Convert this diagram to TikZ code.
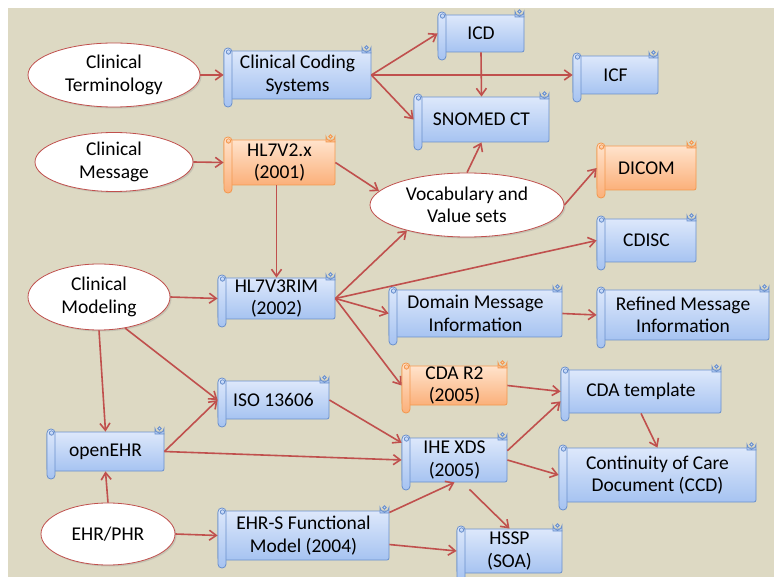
\documentclass[tikz,border=0pt]{standalone}
\usepackage{fontspec}
\setmainfont{Carlito}
\usetikzlibrary{arrows.meta,shapes.geometric,shadows,calc}

\definecolor{bgtan}{HTML}{DDD9C3}
\definecolor{linkred}{HTML}{C0504D}
\definecolor{blueTop}{HTML}{DDE8FB}
\definecolor{blueBot}{HTML}{A6C3F1}
\definecolor{blueLine}{HTML}{6A90CC}
\definecolor{orgTop}{HTML}{FFE3CC}
\definecolor{orgBot}{HTML}{FBB07A}
\definecolor{orgLine}{HTML}{F3984E}

\tikzset{
  txt/.style={font=\fontsize{19.5}{22.5}\selectfont, align=center, text=black},
  topic/.style={ellipse, txt, draw=linkred, line width=0.8pt, fill=white, inner sep=0pt,
    drop shadow={shadow xshift=1.5pt, shadow yshift=-1.5pt, opacity=0.25}},
  bluepal/.style={top color=blueTop, bottom color=blueBot, draw=blueLine},
  orangepal/.style={top color=orgTop, bottom color=orgBot, draw=orgLine},
  scrollbody/.style={rectangle, rounded corners=2pt, line width=0.8pt, inner sep=0pt, txt},
  rollpart/.style={line width=0.8pt},
  link/.style={draw=linkred, line width=1.6pt, -{Straight Barb[length=7pt,width=10pt]}},
}

% scroll-shaped box: name, x0, y0, x1, y1 (outer box), palette style, text
\newcommand\scrollnode[7]{%
  \pgfmathsetmacro\scrW{#4-#2}%
  \pgfmathsetmacro\scrH{#5-#3-16}%
  \node[scrollbody, #6, minimum width=\scrW pt, minimum height=\scrH pt] (#1)
    at ({(#2+#4)/2}, {(#3+#5)/2}) {#7};
  % curl at the top right
  \path[rollpart, #6] (#4-9, #3+10) -- (#4-9, #3+4.5) arc[start angle=180, end angle=0, radius=4.5]
    -- (#4, #3+10) -- cycle;
  \draw[rollpart, #6, fill=none] (#4-4.5, #3+4.5) circle[radius=1.8];
  % roll on the left
  \path[rollpart, #6, rounded corners=3.8pt] (#2, #3+5) rectangle (#2+8, #5);
  \draw[rollpart, #6, fill=none] (#2+4.5, #3+9) circle[radius=2.2];
}

\begin{document}
\begin{tikzpicture}[x=1pt, y=-1pt]
\useasboundingbox (0,0) rectangle (774,577);
\fill[bgtan] (8,8) rectangle (774,577);

% topics
\node[topic, minimum width=172pt, minimum height=64pt] (term) at (114,75) {Clinical\\Terminology};
\node[topic, minimum width=158pt, minimum height=59pt] (msg) at (114,162) {Clinical\\Message};
\node[topic, minimum width=142pt, minimum height=66pt] (model) at (99,297) {Clinical\\Modeling};
\node[topic, minimum width=134pt, minimum height=62pt] (ehr) at (108,534) {EHR/PHR};
\node[topic, minimum width=194pt, minimum height=64pt] (vocab) at (467,205) {Vocabulary and\\Value sets};

% standards
\scrollnode{ccs}{224}{43}{371}{107}{bluepal}{Clinical Coding\\Systems}
\scrollnode{hlv2}{224}{132}{335}{193}{orangepal}{HL7V2.x\\(2001)}
\scrollnode{icd}{438}{7}{524}{60}{bluepal}{ICD}
\scrollnode{icf}{573}{48}{658}{102}{bluepal}{ICF}
\scrollnode{snomed}{414}{89}{549}{150}{bluepal}{SNOMED CT}
\scrollnode{dicom}{597}{138}{696}{198}{orangepal}{DICOM}
\scrollnode{rim}{218}{270}{335}{327}{bluepal}{HL7V3RIM\\(2002)}
\scrollnode{cdisc}{597}{211}{696}{270}{bluepal}{CDISC}
\scrollnode{dmi}{389}{282}{562}{345}{bluepal}{Domain Message\\Information}
\scrollnode{rmi}{597}{282}{769}{348}{bluepal}{Refined Message\\Information}
\scrollnode{cda}{402}{358}{507}{413}{orangepal}{CDA R2\\(2005)}
\scrollnode{cdat}{561}{362}{721}{421}{bluepal}{CDA template}
\scrollnode{iso}{218}{373}{329}{427}{bluepal}{ISO 13606}
\scrollnode{oehr}{47}{424}{164}{479}{bluepal}{openEHR}
\scrollnode{xds}{402}{430}{507}{490}{bluepal}{IHE XDS\\(2005)}
\scrollnode{ccd}{559}{440}{756}{510}{bluepal}{Continuity of Care\\Document (CCD)}
\scrollnode{ehrs}{218}{503}{389}{568}{bluepal}{EHR-S Functional\\Model (2004)}
\scrollnode{hssp}{457}{521}{562}{581}{bluepal}{HSSP\\(SOA)}

% relations
\draw[link] (term.east) -- (ccs.west);
\draw[link] (ccs.east) -- (icd.west);
\draw[link] (ccs.east) -- (icf.west);
\draw[link] (ccs.east) -- (snomed.west);
\draw[link] (icd.south) -- (snomed.north);
\draw[link] (msg.east) -- (hlv2.west);
\draw[link] (hlv2.east) -- (vocab.171);
\draw[link] (hlv2.south -| rim.north) -- (rim.north);
\draw[link] (vocab.north) -- (snomed.south);
\draw[link] (vocab.east) -- (dicom.west);
\draw[link] (model.east) -- (rim.west);
\draw[link] (rim.east) -- (vocab.203);
\draw[link] (rim.east) -- (cdisc.west);
\draw[link] (rim.east) -- (dmi.west);
\draw[link] (rim.east) -- (cda.west);
\draw[link] (dmi.east) -- (rmi.west);
\draw[link] (cda.east) -- (cdat.west);
\draw[link] (cdat.south) -- (ccd.north);
\draw[link] (model.south) -- (oehr.north);
\draw[link] (model.-50) -- (iso.west);
\draw[link] (iso.east) -- (xds.162);
\draw[link] (oehr.east) -- (iso.west);
\draw[link] (oehr.east) -- (xds.west);
\draw[link] (xds.10) -- (cdat.187);
\draw[link] (xds.east) -- (ccd.west);
\draw[link] ($(xds.south)+(15,7)$) -- (hssp.north);
\draw[link] (ehr.north) -- (oehr.south);
\draw[link] (ehr.east) -- (ehrs.west);
\draw[link] (ehrs.15) -- (xds.south);
\draw[link] (ehrs.-6) -- (hssp.west);
\end{tikzpicture}
\end{document}
